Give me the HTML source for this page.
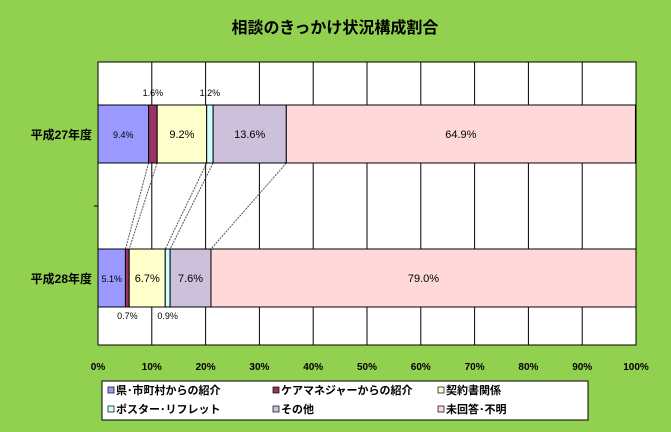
<!DOCTYPE html>
<html><head><meta charset="utf-8"><style>
body{margin:0;background:#92D050;width:671px;height:432px;overflow:hidden}
svg{display:block;font-family:"Liberation Sans","Noto Sans CJK JP",sans-serif}
</style></head><body>
<svg id="c" width="671" height="432">
<rect x="0" y="0" width="671" height="432" fill="#92D050"/>
<text x="335" y="33" text-anchor="middle" font-size="16" font-weight="bold" fill="#000">相談のきっかけ状況構成割合</text>
<rect x="98" y="62" width="538" height="283" fill="#fff" stroke="#000"/>
<g id="grid"></g><g id="conn"></g><g id="bars"></g><g id="axis"></g>
<rect x="102" y="381" width="486" height="39" fill="#fff" stroke="#000"/>
<g id="legend"></g>
</svg>
<script>
const categories=["平成27年度","平成28年度"];
const seriesNames=["県･市町村からの紹介","ケアマネジャーからの紹介","契約書関係","ポスター･リフレット","その他","未回答･不明"];
const colors=["#9999FF","#993366","#FFFFCC","#CCFFFF","#CCC0DA","#FFD9D9"];
const values2015=[9.4,1.6,9.2,1.2,13.6,64.9];
const values2016=[5.1,0.7,6.7,0.9,7.6,79.0];
const ticks=[0,10,20,30,40,50,60,70,80,90,100];
const NS="http://www.w3.org/2000/svg";
const x=v=>98+v*5.38;
const rowsY=[105,249],bh=58;
function mk(t,a,p){const e=document.createElementNS(NS,t);for(const k in a)e.setAttribute(k,a[k]);p.appendChild(e);return e;}
const g=document.getElementById('grid'),ax=document.getElementById('axis');
ticks.forEach(t=>{
 if(t>0&&t<100){const l=mk('line',{x1:x(t),x2:x(t),y1:62,y2:345,stroke:'#000','stroke-width':1},g);
 
 }
 const tx=mk('text',{x:x(t),y:370,'text-anchor':'middle','font-size':10,'font-weight':'bold'},ax);
 tx.textContent=t+'%';
 
 
});
mk('line',{x1:94,x2:98,y1:206,y2:206,stroke:'#000'},ax);
const data=[values2015,values2016];
const b=document.getElementById('bars'),cn=document.getElementById('conn');
const cum=data.map(vs=>{let c=0;return vs.map(v=>{c+=v;return c;});});
for(let i=0;i<5;i++){
 const l=mk('line',{x1:x(cum[0][i]),y1:rowsY[0]+bh,x2:x(cum[1][i]),y2:rowsY[1],stroke:'#555','stroke-dasharray':'2,1'},cn);
 
 
}
data.forEach((vs,r)=>{
 const y=rowsY[r];
 const lab=mk('text',{x:92,y:y+bh/2+5,'text-anchor':'end','font-size':12,'font-weight':'bold'},ax);
 lab.textContent=categories[r];
 
 
 let c=0;
 vs.forEach((v,i)=>{
  const re=mk('rect',{x:x(c),y:y,width:x(c+v)-x(c),height:bh,fill:colors[i],stroke:'#000','stroke-width':1},b);
  
  
  const small=v<2;
  const big=v>=6;
  const ty=small?(r===0?y-9:y+bh+12):y+bh/2+4;
  const t=mk('text',{x:x(c+v/2),y:ty,'text-anchor':'middle','font-size':(small||v<10&&i==0)?9:11},b);
  t.textContent=v.toFixed(1)+'%';
  
  
  c+=v;
 });
});
const lg=document.getElementById('legend');
seriesNames.forEach((n,i)=>{
 const lx=108+(i%3)*165,ly=393+Math.floor(i/3)*19;
 const s=mk('rect',{x:lx,y:ly-6,width:6,height:6,fill:colors[i],stroke:'#000','stroke-width':0.7},lg);
 
 
 const t=mk('text',{x:lx+8,y:ly+1,'font-size':11,'font-weight':'bold'},lg);
 t.textContent=n;
 
 
});
</script>
</body></html>
